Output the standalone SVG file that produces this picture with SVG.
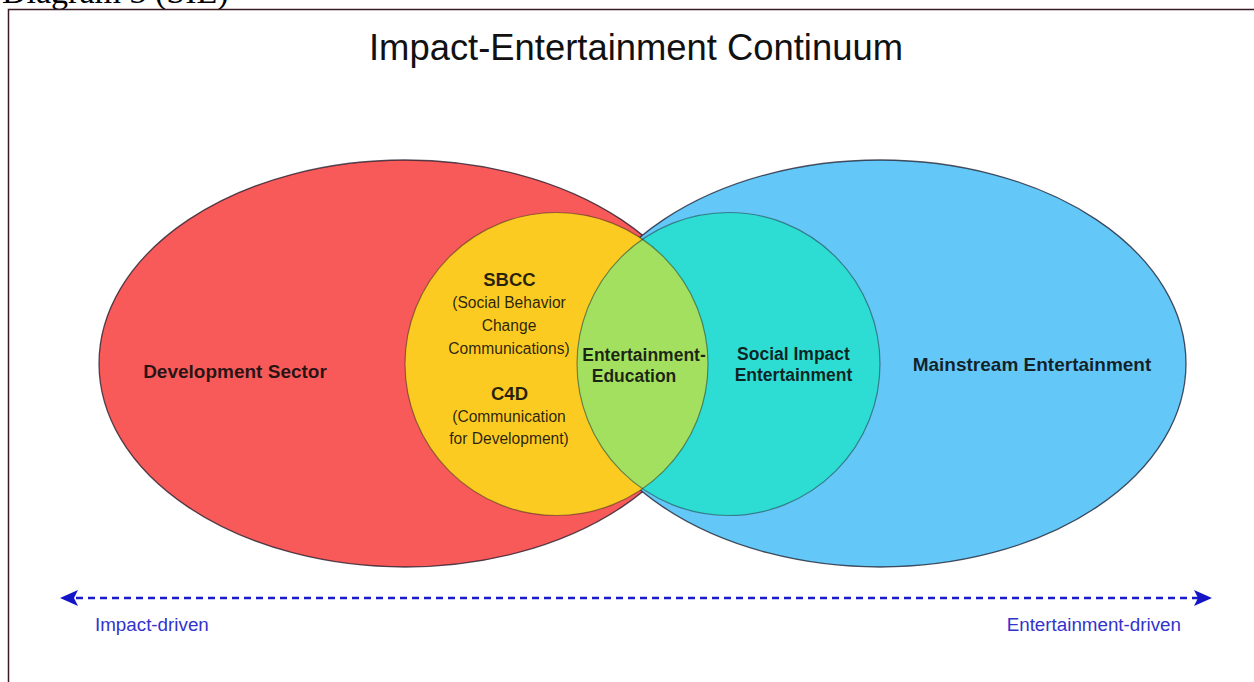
<svg xmlns="http://www.w3.org/2000/svg" width="1254" height="682" viewBox="0 0 1254 682">
  <style>
    .lbl { font-family: "Liberation Sans", Arial, sans-serif; fill: #0a0a0a; fill-opacity: 0.88; text-anchor: middle; }
    .b { font-weight: bold; }
    .edge { stroke: #1a1a2a; stroke-opacity: 0.75; stroke-width: 1.3; }
    .cedge { fill: none; stroke: #1a1a1a; stroke-opacity: 0.45; stroke-width: 1.2; }
    .axis { font-family: "Liberation Sans", Arial, sans-serif; font-size: 18.8px; fill: #3333cc; }
  </style>
  <defs>
    <marker id="ah" markerWidth="18" markerHeight="16" refX="14" refY="8" orient="auto-start-reverse" markerUnits="userSpaceOnUse">
      <path d="M0,0 L18,8 L0,16 L4,8 z" fill="#1515c8"/>
    </marker>
  </defs>
  <rect width="1254" height="682" fill="#ffffff"/>
  <text x="2" y="3" font-family="Liberation Serif, Times New Roman, serif" font-size="34" fill="#000">Diagram 3 (SIE)</text>
  <rect x="8.5" y="9.5" width="1270" height="700" fill="none" stroke="#3a1a22" stroke-width="1.5"/>
  <text x="636" y="60" font-family="Liberation Sans, Arial, sans-serif" font-size="36.4" fill="#111" text-anchor="middle">Impact-Entertainment Continuum</text>

  <g id="development-sector">
    <ellipse cx="405" cy="363.5" rx="306" ry="203.5" fill="#f85a5a" class="edge"/>
  </g>
  <g id="mainstream-entertainment">
    <ellipse cx="880" cy="363.5" rx="306" ry="203.5" fill="#63c7f8" class="edge"/>
  </g>
  <g id="sbcc-c4d">
    <circle cx="556.5" cy="364" r="151.5" fill="#fbcb22"/>
  </g>
  <g id="social-impact-entertainment">
    <circle cx="728.5" cy="364" r="151.5" fill="#2ddcd2"/>
  </g>
  <g id="entertainment-education">
    <path d="M642.5,239.3 A151.5,151.5 0 0 1 642.5,488.7 A151.5,151.5 0 0 1 642.5,239.3 Z" fill="#a3e060"/>
  </g>
  <circle cx="556.5" cy="364" r="151.5" class="cedge"/>
  <circle cx="728.5" cy="364" r="151.5" class="cedge"/>

  <text class="lbl b" x="235" y="378" font-size="19">Development Sector</text>
  <text class="lbl b" x="1032" y="371" font-size="19">Mainstream Entertainment</text>

  <text class="lbl b" x="509.5" y="286" font-size="18.5">SBCC</text>
  <text class="lbl" x="509" y="308" font-size="15.6">(Social Behavior</text>
  <text class="lbl" x="509" y="331" font-size="15.6">Change</text>
  <text class="lbl" x="509" y="354" font-size="15.6">Communications)</text>
  <text class="lbl b" x="509.5" y="400" font-size="18.5">C4D</text>
  <text class="lbl" x="509" y="422" font-size="15.6">(Communication</text>
  <text class="lbl" x="509" y="444" font-size="15.6">for Development)</text>

  <text class="lbl b" x="644" y="361" font-size="17.5">Entertainment-</text>
  <text class="lbl b" x="634" y="382" font-size="17.5">Education</text>

  <text class="lbl b" x="793.5" y="360" font-size="17.5">Social Impact</text>
  <text class="lbl b" x="793.5" y="381" font-size="17.5">Entertainment</text>

  <g id="connectors">
    <line x1="64" y1="598" x2="1208" y2="598" stroke="#1a1acc" stroke-width="2.5" stroke-dasharray="7 5" marker-start="url(#ah)" marker-end="url(#ah)"/>
  </g>
  <text class="axis" x="95" y="631">Impact-driven</text>
  <text class="axis" x="1181" y="631" text-anchor="end">Entertainment-driven</text>
</svg>
